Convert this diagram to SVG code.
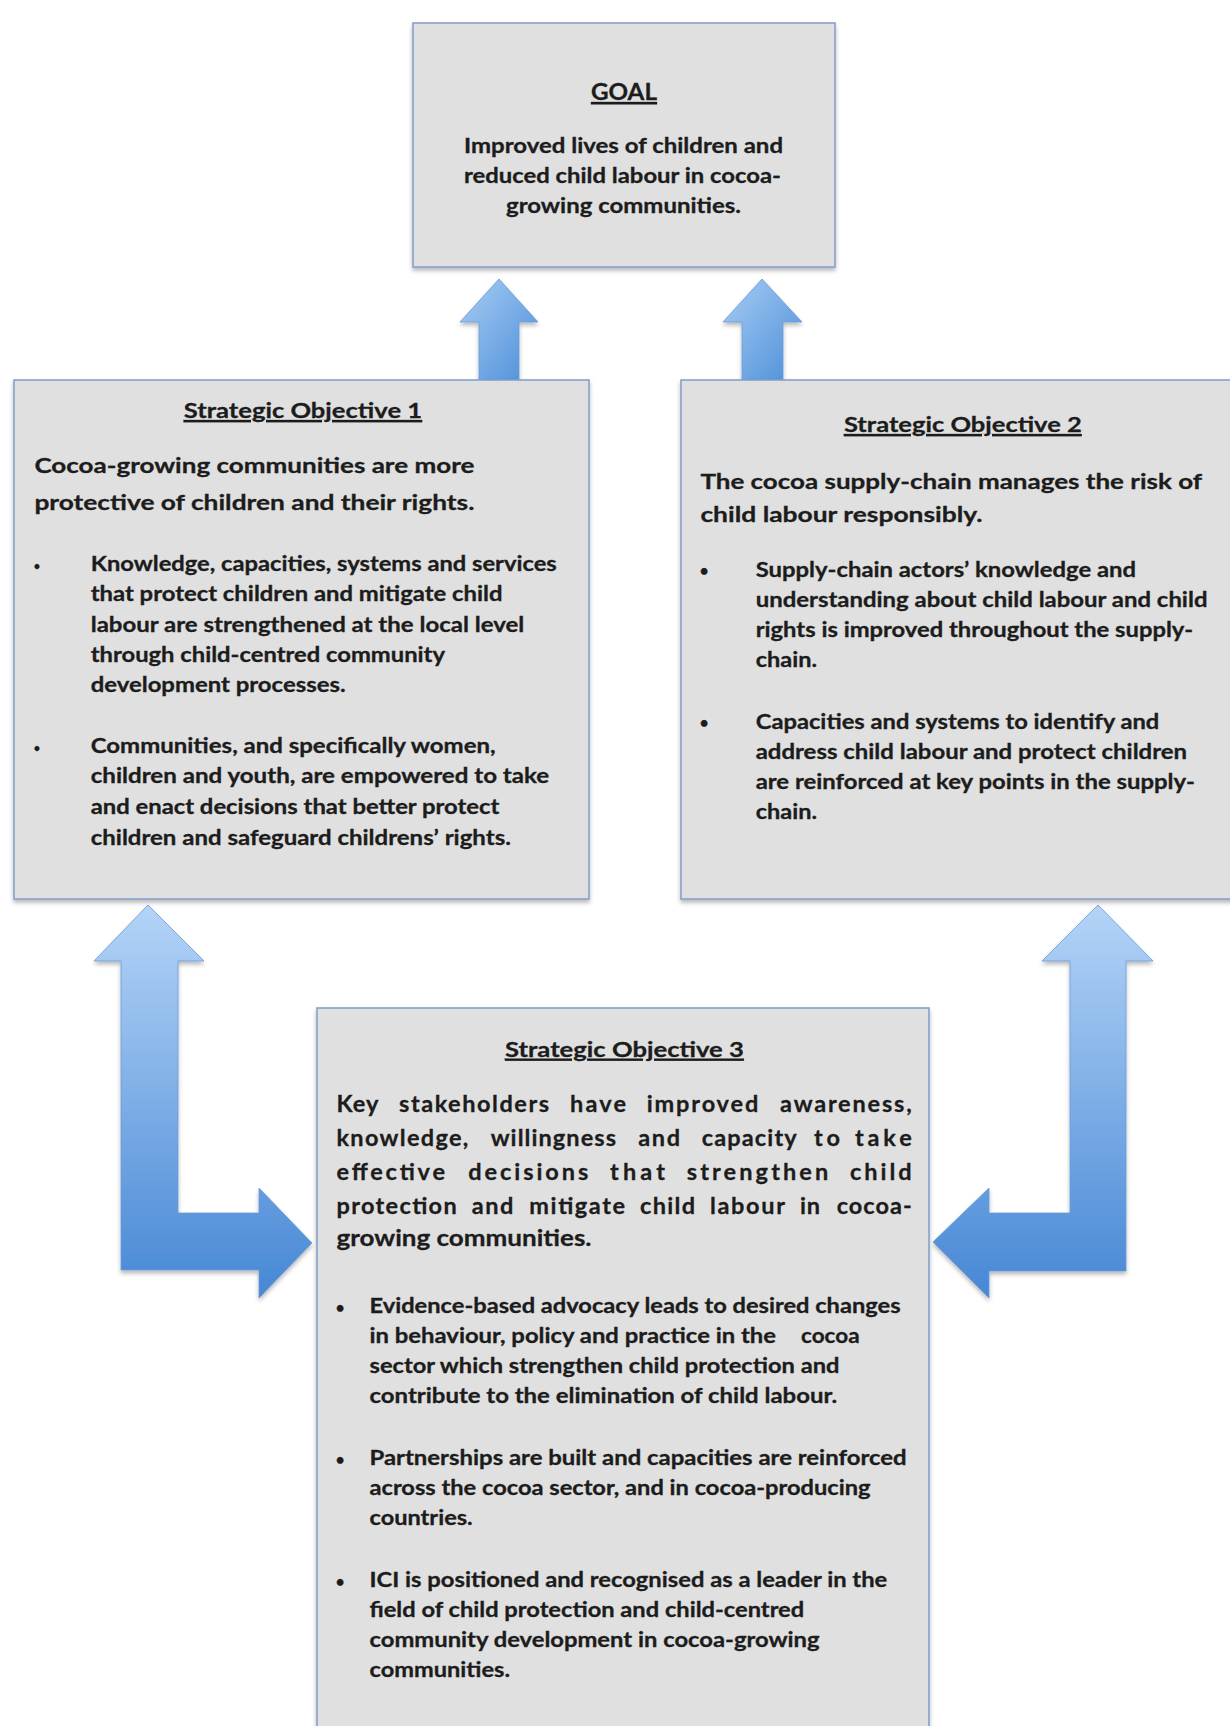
<svg xmlns="http://www.w3.org/2000/svg" width="1230" height="1726" viewBox="0 0 1230 1726">
<style>
.box{fill:#e0e0e0;stroke:#809dca;stroke-width:1.5}
.t{font-family:Lato,"Open Sans","Liberation Sans",sans-serif;font-weight:700;fill:#1c1c1c;stroke:#1c1c1c;stroke-width:0.3}
.ttl{font-size:21.5px;text-decoration:underline}
.goal{font-size:23px;text-decoration:underline}
.gb{font-size:20px}
.hd{font-size:21.5px}
.bl{font-size:20px}
.m3{font-size:23.5px}
.dot{font-size:15px}
.dots{font-size:11px}
.arr{stroke:#6a9bd8;stroke-width:0.8}
</style>
<defs>
<filter id="sh" x="-5%" y="-5%" width="110%" height="110%">
<feDropShadow dx="0" dy="3" stdDeviation="2" flood-color="#000" flood-opacity="0.28"/>
</filter>
<linearGradient id="gUp" x1="0" y1="0" x2="1" y2="1">
<stop offset="0" stop-color="#a9cdf5"/>
<stop offset="1" stop-color="#4a8ed8"/>
</linearGradient>
<linearGradient id="gL" x1="0" y1="0" x2="0" y2="1">
<stop offset="0" stop-color="#b4d4f7"/>
<stop offset="1" stop-color="#4687d5"/>
</linearGradient>
</defs>
<rect width="1230" height="1726" fill="#ffffff"/>

<g id="connectors">
<path class="arr" filter="url(#sh)" fill="url(#gUp)" d="M499,279 L538,322 L519,322 L519,381 L479,381 L479,322 L460,322 Z"/>
<path class="arr" filter="url(#sh)" fill="url(#gUp)" d="M762,279 L802,322 L783,322 L783,381 L742,381 L742,322 L723,322 Z"/>
<path class="arr" filter="url(#sh)" fill="url(#gL)" d="M148,905 L204,961 L178,961 L178,1213 L259,1213 L259,1188 L312,1243 L259,1298 L259,1270 L121,1270 L121,961 L94,961 Z"/>
<path class="arr" filter="url(#sh)" fill="url(#gL)" d="M1098,905 L1153,961 L1126,961 L1126,1271 L989,1271 L989,1298 L933,1242 L989,1188 L989,1213 L1070,1213 L1070,961 L1042,961 Z"/>
</g>

<g id="goal">
<rect class="box" filter="url(#sh)" x="413" y="23" width="422" height="244"/>
<text class="t goal" x="591" y="100" textLength="66" lengthAdjust="spacingAndGlyphs">GOAL</text>
<text class="t gb" x="464" y="153" textLength="319" lengthAdjust="spacingAndGlyphs">Improved lives of children and</text>
<text class="t gb" x="464" y="183" textLength="317" lengthAdjust="spacingAndGlyphs">reduced child labour in cocoa-</text>
<text class="t gb" x="506" y="212.5" textLength="235" lengthAdjust="spacingAndGlyphs">growing communities.</text>
</g>

<g id="so1">
<rect class="box" filter="url(#sh)" x="14" y="380" width="575" height="519"/>
<text class="t ttl" x="183.7" y="418" textLength="238.4" lengthAdjust="spacingAndGlyphs">Strategic Objective 1</text>
<text class="t hd" x="34.4" y="473.3" textLength="440" lengthAdjust="spacingAndGlyphs">Cocoa-growing communities are more</text>
<text class="t hd" x="34.4" y="509.5" textLength="440" lengthAdjust="spacingAndGlyphs">protective of children and their rights.</text>
<text class="t dots" x="37" y="570" text-anchor="middle">•</text>
<text class="t bl" x="90.7" y="570.8" textLength="466.1" lengthAdjust="spacingAndGlyphs">Knowledge, capacities, systems and services</text>
<text class="t bl" x="90.7" y="600.7" textLength="411.8" lengthAdjust="spacingAndGlyphs">that protect children and mitigate child</text>
<text class="t bl" x="90.7" y="631.7" textLength="433.6" lengthAdjust="spacingAndGlyphs">labour are strengthened at the local level</text>
<text class="t bl" x="90.7" y="662" textLength="354.3" lengthAdjust="spacingAndGlyphs">through child-centred community</text>
<text class="t bl" x="90.7" y="692" textLength="254.9" lengthAdjust="spacingAndGlyphs">development processes.</text>
<text class="t dots" x="37" y="752" text-anchor="middle">•</text>
<text class="t bl" x="90.7" y="752.9" textLength="404.9" lengthAdjust="spacingAndGlyphs">Communities, and specifically women,</text>
<text class="t bl" x="90.7" y="783.2" textLength="458.5" lengthAdjust="spacingAndGlyphs">children and youth, are empowered to take</text>
<text class="t bl" x="90.7" y="814.2" textLength="408.7" lengthAdjust="spacingAndGlyphs">and enact decisions that better protect</text>
<text class="t bl" x="90.7" y="844.5" textLength="420.2" lengthAdjust="spacingAndGlyphs">children and safeguard childrens’ rights.</text>
</g>

<g id="so2">
<rect class="box" filter="url(#sh)" x="681" y="380" width="566" height="519"/>
<text class="t ttl" x="843.9" y="432" textLength="237.9" lengthAdjust="spacingAndGlyphs">Strategic Objective 2</text>
<text class="t hd" x="700.4" y="488.8" textLength="501.7" lengthAdjust="spacingAndGlyphs">The cocoa supply-chain manages the risk of</text>
<text class="t hd" x="700.4" y="521.5" textLength="282.1" lengthAdjust="spacingAndGlyphs">child labour responsibly.</text>
<text class="t dot" x="704" y="576" text-anchor="middle">•</text>
<text class="t bl" x="755.7" y="576.6" textLength="380.3" lengthAdjust="spacingAndGlyphs">Supply-chain actors’ knowledge and</text>
<text class="t bl" x="755.7" y="606.9" textLength="451.8" lengthAdjust="spacingAndGlyphs">understanding about child labour and child</text>
<text class="t bl" x="755.7" y="636.9" textLength="437.5" lengthAdjust="spacingAndGlyphs">rights is improved throughout the supply-</text>
<text class="t bl" x="755.7" y="666.8" textLength="61.3" lengthAdjust="spacingAndGlyphs">chain.</text>
<text class="t dot" x="704" y="728" text-anchor="middle">•</text>
<text class="t bl" x="755.7" y="728.8" textLength="403.6" lengthAdjust="spacingAndGlyphs">Capacities and systems to identify and</text>
<text class="t bl" x="755.7" y="759.1" textLength="431.4" lengthAdjust="spacingAndGlyphs">address child labour and protect children</text>
<text class="t bl" x="755.7" y="789.4" textLength="439.3" lengthAdjust="spacingAndGlyphs">are reinforced at key points in the supply-</text>
<text class="t bl" x="755.7" y="819.4" textLength="61.3" lengthAdjust="spacingAndGlyphs">chain.</text>
</g>

<g id="so3">
<rect class="box" filter="url(#sh)" x="317" y="1008" width="612" height="740"/>
<text class="t ttl" x="504.9" y="1056.7" textLength="239" lengthAdjust="spacingAndGlyphs">Strategic Objective 3</text>
<text class="t m3" x="336.5" y="1111.5" textLength="42" lengthAdjust="spacing">Key</text>
<text class="t m3" x="399" y="1111.5" textLength="150" lengthAdjust="spacing">stakeholders</text>
<text class="t m3" x="570" y="1111.5" textLength="56" lengthAdjust="spacing">have</text>
<text class="t m3" x="646.7" y="1111.5" textLength="111.6" lengthAdjust="spacing">improved</text>
<text class="t m3" x="780" y="1111.5" textLength="131.7" lengthAdjust="spacing">awareness,</text>
<text class="t m3" x="336.5" y="1146" textLength="131.8" lengthAdjust="spacing">knowledge,</text>
<text class="t m3" x="490.7" y="1146" textLength="125.3" lengthAdjust="spacing">willingness</text>
<text class="t m3" x="638.3" y="1146" textLength="41.7" lengthAdjust="spacing">and</text>
<text class="t m3" x="701.7" y="1146" textLength="95" lengthAdjust="spacing">capacity</text>
<text class="t m3" x="814" y="1146" textLength="26" lengthAdjust="spacing">to</text>
<text class="t m3" x="855" y="1146" textLength="56.7" lengthAdjust="spacing">take</text>
<text class="t m3" x="336.5" y="1180" textLength="108.5" lengthAdjust="spacing">effective</text>
<text class="t m3" x="468.3" y="1180" textLength="120" lengthAdjust="spacing">decisions</text>
<text class="t m3" x="610" y="1180" textLength="55" lengthAdjust="spacing">that</text>
<text class="t m3" x="686.7" y="1180" textLength="141.6" lengthAdjust="spacing">strengthen</text>
<text class="t m3" x="850" y="1180" textLength="61.7" lengthAdjust="spacing">child</text>
<text class="t m3" x="336.5" y="1213.5" textLength="120.2" lengthAdjust="spacing">protection</text>
<text class="t m3" x="471.7" y="1213.5" textLength="41.6" lengthAdjust="spacing">and</text>
<text class="t m3" x="529.3" y="1213.5" textLength="95.7" lengthAdjust="spacing">mitigate</text>
<text class="t m3" x="640" y="1213.5" textLength="55" lengthAdjust="spacing">child</text>
<text class="t m3" x="710" y="1213.5" textLength="75" lengthAdjust="spacing">labour</text>
<text class="t m3" x="800" y="1213.5" textLength="20" lengthAdjust="spacing">in</text>
<text class="t m3" x="836.7" y="1213.5" textLength="75" lengthAdjust="spacing">cocoa-</text>
<text class="t m3" x="336.5" y="1246" textLength="255" lengthAdjust="spacingAndGlyphs">growing communities.</text>
<text class="t dot" x="340" y="1313" text-anchor="middle">•</text>
<text class="t bl" x="369.5" y="1313.3" textLength="531.1" lengthAdjust="spacingAndGlyphs">Evidence-based advocacy leads to desired changes</text>
<text class="t bl" x="369.5" y="1343.3" textLength="406.5" lengthAdjust="spacingAndGlyphs">in behaviour, policy and practice in the</text>
<text class="t bl" x="801" y="1343.3" textLength="58.6" lengthAdjust="spacingAndGlyphs">cocoa</text>
<text class="t bl" x="369.5" y="1373.3" textLength="470" lengthAdjust="spacingAndGlyphs">sector which strengthen child protection and</text>
<text class="t bl" x="369.5" y="1403.3" textLength="467.6" lengthAdjust="spacingAndGlyphs">contribute to the elimination of child labour.</text>
<text class="t dot" x="340" y="1465" text-anchor="middle">•</text>
<text class="t bl" x="369.5" y="1465" textLength="537.1" lengthAdjust="spacingAndGlyphs">Partnerships are built and capacities are reinforced</text>
<text class="t bl" x="369.5" y="1495" textLength="501" lengthAdjust="spacingAndGlyphs">across the cocoa sector, and in cocoa-producing</text>
<text class="t bl" x="369.5" y="1525" textLength="103.2" lengthAdjust="spacingAndGlyphs">countries.</text>
<text class="t dot" x="340" y="1586.7" text-anchor="middle">•</text>
<text class="t bl" x="369.5" y="1586.7" textLength="517.8" lengthAdjust="spacingAndGlyphs">ICI is positioned and recognised as a leader in the</text>
<text class="t bl" x="369.5" y="1616.7" textLength="434.7" lengthAdjust="spacingAndGlyphs">field of child protection and child-centred</text>
<text class="t bl" x="369.5" y="1646.7" textLength="450" lengthAdjust="spacingAndGlyphs">community development in cocoa-growing</text>
<text class="t bl" x="369.5" y="1676.7" textLength="140.5" lengthAdjust="spacingAndGlyphs">communities.</text>
</g>
</svg>
